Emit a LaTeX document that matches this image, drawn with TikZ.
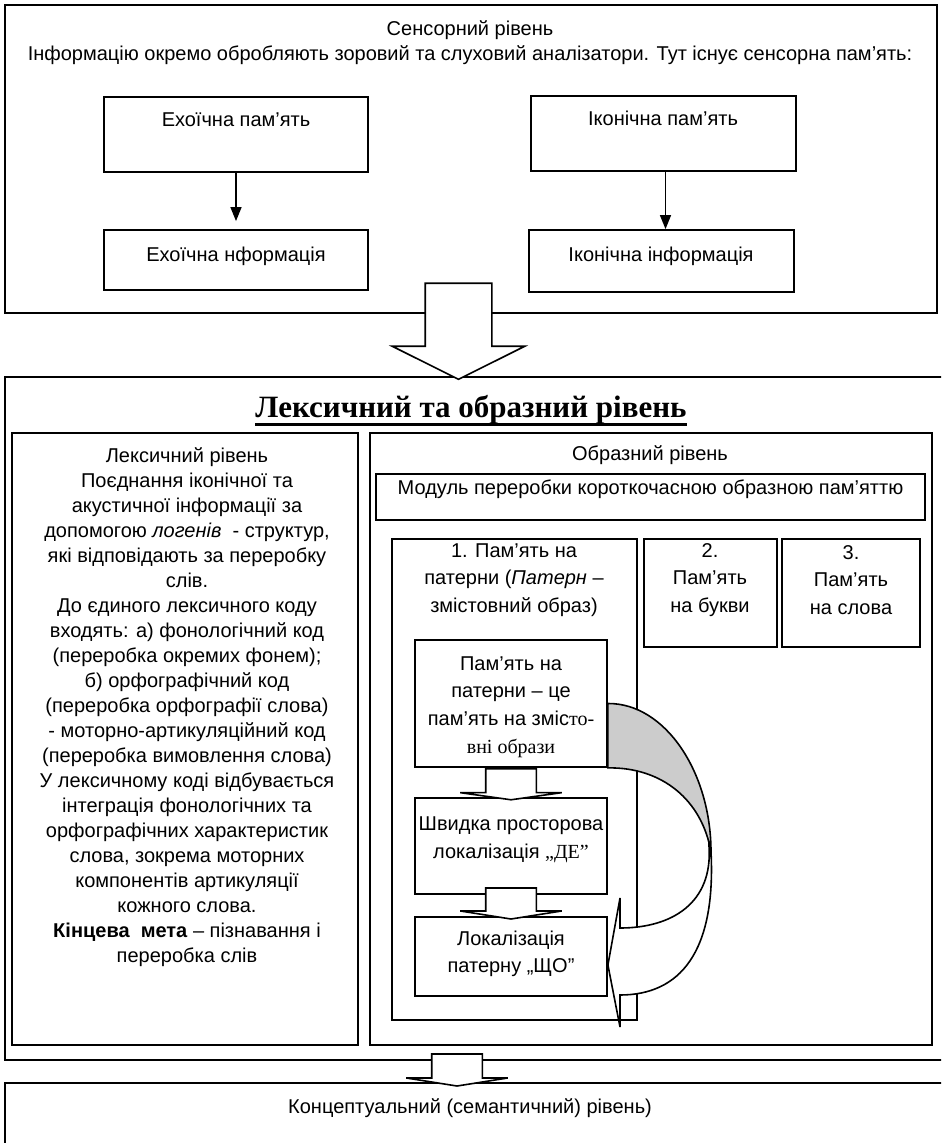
\documentclass[tikz,border=0pt]{standalone}
\usepackage{fontspec}
\setmainfont{Liberation Sans}
\newfontfamily\timesfont{Liberation Serif}
\usepackage{tikz}
\usetikzlibrary{arrows.meta,positioning,fit,shapes.arrows}
\tikzset{
  levelbox/.style={draw, line width=0.9pt, inner sep=0pt, fill=white},
  membox/.style={levelbox, align=center, font=\fontsize{10}{13.5}\selectfont},
  leveltext/.style={align=center, inner sep=0pt, font=\fontsize{10}{12.2}\selectfont},
  lextext/.style={leveltext, font=\fontsize{10}{12.5}\selectfont},
  pattext/.style={leveltext, font=\fontsize{10}{13.8}\selectfont},
  thinarrow/.style={-{Triangle[length=7pt,width=5.5pt]}, line width=0.7pt},
  blockarrow/.style={single arrow, draw, fill=white, line width=0.8pt, inner xsep=0pt, rotate=-90},
  backface/.style={draw, fill=gray!40, line width=0.8pt},
  frontface/.style={draw, fill=white, line width=0.8pt}
}
\begin{document}
\begin{tikzpicture}[x=0.5pt, y=-0.5pt]
    \clip (0,0) rectangle (941,1143);
    \fill[white] (0,0) rectangle (941,1143);
    \node[levelbox, fit={(5,5) (937,313)}] (sensor) {};
    \node[leveltext] (sensortxt) at (470,42.5) {Сенсорний рівень\\Інформацію окремо обробляють зоровий та слуховий аналізатори. Тут існує сенсорна пам’ять:};
    \node[membox, fit={(104,97) (368,172)}] (echomem) {};
    \node[leveltext] (echomemtxt) at (236,120) {Ехоїчна пам’ять};
    \node[membox, fit={(104,230) (368,290)}] (echoinfo) {};
    \node[leveltext] (echoinfotxt) at (236,256) {Ехоїчна нформація};
    \node[membox, fit={(531,96) (796,171)}] (iconmem) {};
    \node[leveltext] (iconmemtxt) at (663,118) {Іконічна пам’ять};
    \node[membox, fit={(529,230) (794,292)}] (iconinfo) {};
    \node[leveltext] (iconinfotxt) at (661,256) {Іконічна інформація};
    \draw[thinarrow, shorten >=4pt] (echomem) -- (echomem |- echoinfo.north);
    \draw[thinarrow] ([xshift=1pt]iconmem.south) -- ([xshift=2pt]iconinfo.north);

    \node[levelbox, fit={(5,377) (960,1060)}] (lexbox) {};
    \node[inner sep=0pt, anchor=base, font=\timesfont\bfseries\fontsize{15.5}{18}\selectfont] (lextitle) at (471,418) {Лексичний та образний рівень};
    \draw[line width=1.5pt] ([yshift=-3.3pt]lextitle.base west) -- ([yshift=-3.3pt]lextitle.base east);
    \node[blockarrow, inner ysep=16.25pt, minimum height=48pt, single arrow head extend=16.5pt, single arrow tip angle=127] (bigarrow) at (458.5,323) {};

    \node[levelbox, fit={(12,433) (358,1045)}] (lexleft) {};
    \node[lextext, anchor=north] (lextxt) at (187,447) {Лексичний рівень\\Поєднання іконічної та\\акустичної інформації за\\допомогою \textit{логенів}\ \ - структур,\\які відповідають за переробку\\слів.\\До єдиного лексичного коду\\входять: а) фонологічний код\\(переробка окремих фонем);\\б) орфографічний код\\(переробка орфографії слова)\\- моторно-артикуляційний код\\(переробка вимовлення слова)\\У лексичному коді відбувається\\інтеграція фонологічних та\\орфографічних характеристик\\слова, зокрема моторних\\компонентів артикуляції\\кожного слова.\\\textbf{Кінцева\ \ мета} – пізнавання і\\переробка слів};

    \node[levelbox, fit={(370,433) (932,1045)}] (imgbox) {};
    \node[leveltext] (imgtxt) at (650,455) {Образний рівень};
    \node[membox, fit={(376,474) (925,520)}] (module) {Модуль переробки короткочасною образною пам’яттю};
    \node[levelbox, fit={(392,539) (637,1020)}] (pat1) {};
    \node[pattext] (pat1txt) at (514,580) {1. Пам’ять на\\патерни (\textit{Патерн} –\\змістовний образ)};
    \node[levelbox, fit={(644,539) (777,647)}] (pat2) {};
    \node[pattext] (pat2txt) at (710,580) {2.\\Пам’ять\\на букви};
    \node[levelbox, fit={(782,539) (920,647)}] (pat3) {};
    \node[pattext] (pat3txt) at (851,580) {3.\\Пам’ять\\на слова};

    \node[levelbox, fit={(415,640) (607,767)}] (pata) {};
    \node[pattext] (patatxt) at (511,707) {Пам’ять на\\патерни – це\\пам’ять на зміс{\timesfont то-}\\{\timesfont вні образи}};
    \node[levelbox, fit={(415,798) (607,894)}] (patb) {};
    \node[pattext, font=\fontsize{10}{14}\selectfont] (patbtxt) at (511,840) {Швидка просторова\\локалізація {\timesfont „ДЕ”}};
    \node[blockarrow, inner ysep=12.25pt, minimum height=15.5pt, single arrow head extend=12.75pt, single arrow tip angle=164] (arrowab) at (511,782.5) {};
    \node[levelbox, fit={(415,917) (607,996)}] (patc) {};
    \node[pattext] (patctxt) at (511,954) {Локалізація\\патерну „ЩО”};
    \node[blockarrow, inner ysep=12.25pt, minimum height=15.5pt, single arrow head extend=12.75pt, single arrow tip angle=162] (arrowbc) at (511,901.5) {};

    \draw[backface] (pata.east) .. controls (665,703) and (711,772) .. (711,852)
      .. controls (702,800) and (662,767) .. (pata.south east) -- cycle;
    \draw[frontface] (709,846) .. controls (713,903) and (672,928) .. (620,928)
      -- (620,898) -- ([yshift=-4.25pt]patc.east) -- (620,1027) -- (620,995)
      .. controls (680,995) and (716,952) .. (711,852) -- cycle;

    \node[levelbox, fit={(5,1083) (960,1160)}] (concept) {};
    \node[leveltext] (concepttxt) at (470,1108) {Концептуальний (семантичний) рівень)};
    \node[blockarrow, inner ysep=12.25pt, minimum height=16pt, single arrow head extend=12.75pt, single arrow tip angle=162] (botarrow) at (457,1068) {};
\end{tikzpicture}
\end{document}
